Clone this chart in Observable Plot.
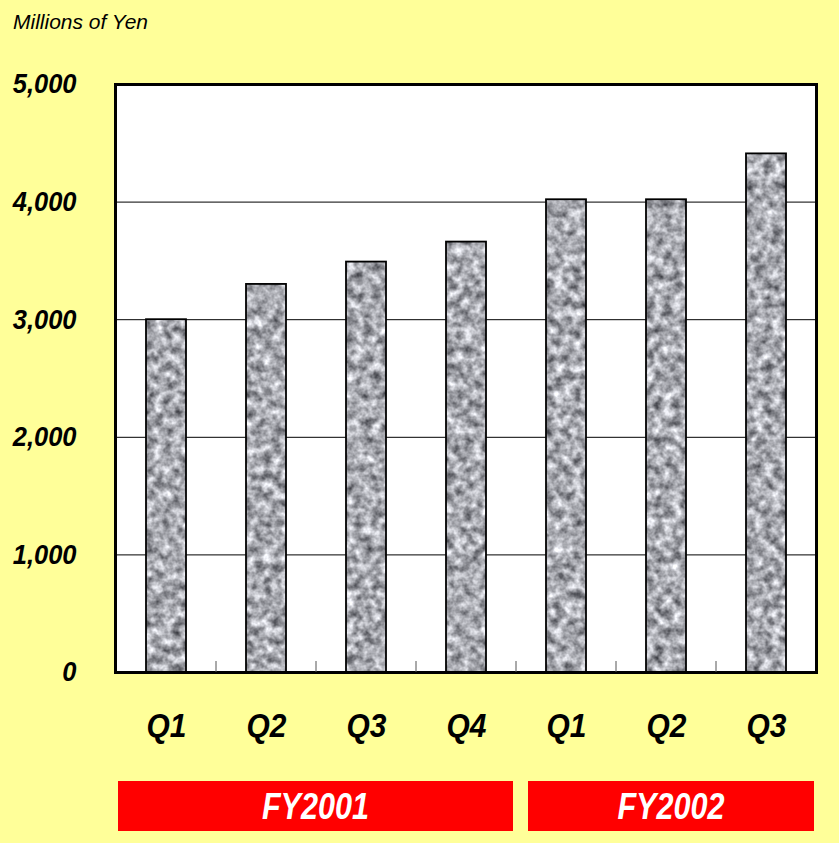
<!DOCTYPE html>
<html>
<head>
<meta charset="utf-8">
<script src="https://cdn.jsdelivr.net/npm/d3@7"></script>
<script src="https://cdn.jsdelivr.net/npm/@observablehq/plot@0.6"></script>
<style>
  html, body { margin: 0; padding: 0; background: #FFFF99; }
  #chart svg { display: block; }
</style>
</head>
<body>
<div id="chart"></div>
<script>
const quarters = ["Q1", "Q2", "Q3", "Q4", "Q1", "Q2", "Q3"];
const fiscalYears = ["FY2001", "FY2001", "FY2001", "FY2001", "FY2002", "FY2002", "FY2002"];
const sales = [3000, 3300, 3490, 3660, 4020, 4020, 4410];
const yTicks = [0, 1000, 2000, 3000, 4000, 5000];
const gridValues = [1000, 2000, 3000, 4000];
const fyGroups = ["FY2001", "FY2002"];
const unitLabel = "Millions of Yen";

const data = quarters.map((q, i) => ({ key: fiscalYears[i] + " " + q, q, fy: fiscalYears[i], value: sales[i] }));
const keys = data.map(d => d.key);

const narrow = "'Liberation Sans Narrow', 'Arial Narrow', 'Liberation Sans', Arial, sans-serif";
const regular = "'Liberation Sans', Arial, sans-serif";

const plot = Plot.plot({
  width: 839,
  height: 843,
  marginLeft: 115,
  marginRight: 23,
  marginTop: 84,
  marginBottom: 171,
  style: { background: "transparent", overflow: "visible" },
  x: { domain: keys, paddingInner: 0.6, paddingOuter: 0.3, label: null },
  y: { domain: [0, 5000], label: null },
  marks: [
    Plot.frame({ fill: "white", stroke: "none" }),
    Plot.ruleY(gridValues, { stroke: "black", strokeWidth: 1 }),
    Plot.barY(data, { x: "key", y: "value", fill: "url(#granitePat)", stroke: "black", strokeWidth: 1.8 }),
    Plot.frame({ stroke: "black", strokeWidth: 3 }),
    Plot.axisY(yTicks, {
      tickSize: 0, tickPadding: 39, tickFormat: d3.format(","),
      fontSize: 28, fontWeight: "bold", fontStyle: "italic", fontFamily: narrow, fill: "black", label: null,
      className: "yax"
    }),
    Plot.axisX({
      tickSize: 0, tickPadding: 40, tickFormat: k => k.split(" ")[1],
      fontSize: 34, fontWeight: "bold", fontStyle: "italic", fontFamily: narrow, fill: "black", label: null,
      className: "xax"
    })
  ]
});

document.getElementById("chart").appendChild(plot);

const svg = d3.select(plot);
const defs = svg.insert("defs", ":first-child");
const filter = defs.append("filter").attr("id", "graniteNoise")
  .attr("x", 0).attr("y", 0).attr("width", 839).attr("height", 843)
  .attr("filterUnits", "userSpaceOnUse")
  .attr("color-interpolation-filters", "sRGB");
filter.append("feTurbulence").attr("type", "fractalNoise").attr("baseFrequency", 0.11)
  .attr("numOctaves", 3).attr("seed", 7).attr("result", "n");
filter.append("feColorMatrix").attr("type", "matrix")
  .attr("values", "1 0 0 0 0  1 0 0 0 0  1 0 0 0 0  0 0 0 0 1");
const ct = filter.append("feComponentTransfer");
ct.append("feFuncR").attr("type", "linear").attr("slope", 1.05).attr("intercept", 0.14);
ct.append("feFuncG").attr("type", "linear").attr("slope", 1.05).attr("intercept", 0.145);
ct.append("feFuncB").attr("type", "linear").attr("slope", 1.05).attr("intercept", 0.17);
const pat = defs.append("pattern").attr("id", "granitePat")
  .attr("patternUnits", "userSpaceOnUse").attr("width", 839).attr("height", 843);
pat.append("rect").attr("width", 839).attr("height", 843).attr("filter", "url(#graniteNoise)");

// condense axis text to mimic a narrow face
function condense(sel, factor) {
  sel.each(function () {
    const len = this.getComputedTextLength();
    this.setAttribute("textLength", len * factor);
    this.setAttribute("lengthAdjust", "spacingAndGlyphs");
  });
}
condense(svg.selectAll(".yax text"), 0.91);
condense(svg.selectAll(".xax text"), 0.88);

const xs = plot.scale("x");
const ys = plot.scale("y");
const step = xs.step;
const half = (step - xs.bandwidth) / 2;
const y0 = ys.apply(0);

// small ticks between categories along the bottom
const ticksG = svg.append("g");
keys.slice(0, -1).forEach(k => {
  const bx = xs.apply(k) + xs.bandwidth + half;
  ticksG.append("line").attr("x1", bx).attr("x2", bx).attr("y1", y0 - 11).attr("y2", y0)
    .attr("stroke", "#555").attr("stroke-width", 1);
});

// fiscal year group boxes
const fyG = svg.append("g");
const insets = { FY2001: [2, 3], FY2002: [12, 2] };
fyGroups.forEach(fy => {
  const ks = data.filter(d => d.fy === fy).map(d => d.key);
  const xa = xs.apply(ks[0]) - half + insets[fy][0];
  const xb = xs.apply(ks[ks.length - 1]) + xs.bandwidth + half - insets[fy][1];
  fyG.append("rect").attr("x", xa).attr("y", y0 + 109).attr("width", xb - xa).attr("height", 50)
    .attr("fill", "#FF0000");
  fyG.append("text").attr("x", (xa + xb) / 2).attr("y", y0 + 134).attr("dy", "0.36em")
    .attr("text-anchor", "middle").attr("fill", "white")
    .attr("font-family", narrow).attr("font-size", 36).attr("font-weight", "bold").attr("font-style", "italic")
    .attr("class", "fylab")
    .text(fy);
});
condense(svg.selectAll(".fylab"), 0.85);

svg.append("text").attr("x", 13).attr("y", 29)
  .attr("text-anchor", "start")
  .attr("font-family", regular).attr("font-size", 21).attr("font-style", "italic").attr("fill", "black")
  .text(unitLabel);
</script>
</body>
</html>
